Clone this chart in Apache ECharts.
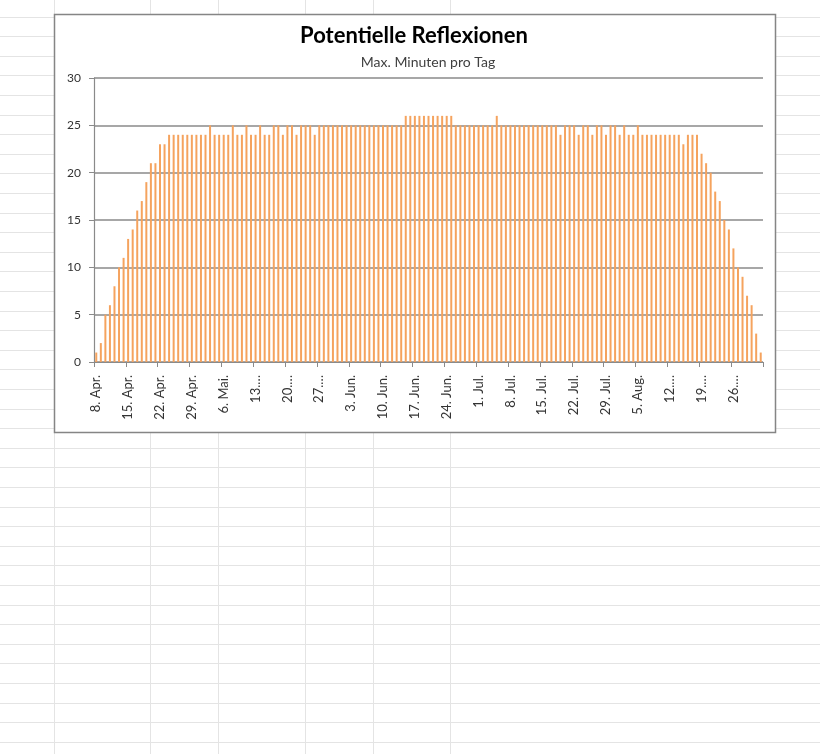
<!DOCTYPE html>
<html>
<head>
<meta charset="utf-8">
<script src="https://cdn.jsdelivr.net/npm/echarts@6/dist/echarts.min.js"></script>
<style>
  html, body { margin: 0; padding: 0; width: 820px; height: 754px; overflow: hidden; }
  body {
    background-color: #ffffff;
    background-image:
      repeating-linear-gradient(to bottom, transparent 0px, transparent 18.6px, #e4e4e4 18.6px, #e4e4e4 19.6px);
    background-position: 0 -2px;
    position: relative;
  }
  .vline { position: absolute; top: 0; width: 1px; height: 754px; background: #e4e4e4; }
  #chart { position: absolute; left: 0; top: 0; width: 820px; height: 754px; }
</style>
</head>
<body>
<div class="vline" style="left:54px"></div>
<div class="vline" style="left:150px"></div>
<div class="vline" style="left:218px"></div>
<div class="vline" style="left:305px"></div>
<div class="vline" style="left:373px"></div>
<div class="vline" style="left:450px"></div>
<div id="chart"></div>
<script>
// ---- data ----
const startDate = [2024, 3, 8]; // 8. April (month index 3)
const monthNames = ["Jan.", "Feb.", "Mär.", "Apr.", "Mai.", "Jun.", "Jul.", "Aug.", "Sep.", "Okt.", "Nov.", "Dez."];
const minutes = [
  1, 2, 5, 6, 8, 10, 11, 13, 14, 16, 17, 19, 21, 21, 23, 23,
  24, 24, 24, 24, 24, 24, 24, 24, 24, 25,
  24, 24, 24, 24, 25, 24, 24, 25, 24, 24, 25, 24, 24, 25, 25, 24, 25, 25, 24, 25, 25, 25, 24,
  25, 25, 25, 25, 25, 25, 25, 25, 25, 25, 25, 25, 25, 25, 25, 25, 25, 25, 25,
  26, 26, 26, 26, 26, 26, 26, 26, 26, 26, 26,
  25, 25, 25, 25, 25, 25, 25, 25, 25,
  26,
  25, 25, 25, 25, 25, 25, 25, 25, 25, 25, 25, 25, 25,
  24, 25, 25, 25, 24, 25, 25, 24, 25, 25, 24, 25, 25, 24, 25, 24, 24, 25,
  24, 24, 24, 24, 24, 24, 24, 24, 24, 23, 24, 24, 24,
  22, 21, 20, 18, 17, 15, 14, 12, 10, 9, 7, 6, 3, 1
];
const tickLabels = ["8. Apr.", "15. Apr.", "22. Apr.", "29. Apr.", "6. Mai.", "13.…", "20.…", "27.…",
  "3. Jun.", "10. Jun.", "17. Jun.", "24. Jun.", "1. Jul.", "8. Jul.", "15. Jul.", "22. Jul.",
  "29. Jul.", "5. Aug.", "12.…", "19.…", "26.…"];
const yTicks = [0, 5, 10, 15, 20, 25, 30];

// category list: one entry per day
const categories = [];
for (let i = 0; i < minutes.length; i++) {
  const d = new Date(startDate[0], startDate[1], startDate[2] + i);
  categories.push(d.getDate() + ". " + monthNames[d.getMonth()]);
}

const font = "Lato, 'Open Sans', sans-serif";
const chart = echarts.init(document.getElementById('chart'), null, { renderer: 'canvas' });
chart.setOption({
  animation: false,
  backgroundColor: 'transparent',
  graphic: [
    { type: 'rect', z: -10, shape: { x: 54.5, y: 14.5, width: 721, height: 418 },
      style: { fill: '#ffffff', stroke: '#858585', lineWidth: 1.5 } },
    { type: 'text', z: 10, x: 414, y: 36, style: { text: 'Potentielle Reflexionen', font: "bold 22px " + font,
      fill: '#000000', textAlign: 'center', textVerticalAlign: 'middle' } },
    { type: 'text', z: 10, x: 428, y: 62, style: { text: 'Max. Minuten pro Tag', font: "14px " + font,
      fill: '#404040', textAlign: 'center', textVerticalAlign: 'middle' } }
  ],
  grid: { left: 94, right: 57, top: 78, bottom: 392, containLabel: false },
  xAxis: {
    type: 'category',
    data: categories,
    boundaryGap: true,
    axisLine: { show: true, lineStyle: { color: '#8a8a8a', width: 1.2 } },
    axisTick: { show: true, interval: 6, length: 5, lineStyle: { color: '#8a8a8a' } },
    axisLabel: {
      interval: 6, rotate: 90, margin: 13, fontSize: 13, fontFamily: font, color: '#333333',
      formatter: function (v, idx) { return tickLabels[Math.round(idx / 7)] || ''; }
    },
    splitLine: { show: false }
  },
  yAxis: {
    type: 'value',
    min: yTicks[0], max: yTicks[yTicks.length - 1], interval: 5,
    axisLine: { show: true, lineStyle: { color: '#8a8a8a', width: 1.2 } },
    axisTick: { show: true, length: 5, lineStyle: { color: '#8a8a8a' } },
    axisLabel: { fontSize: 12, fontFamily: font, color: '#333333', margin: 13 },
    splitLine: { show: true, lineStyle: { color: '#8a8a8a', width: 1.5 } }
  },
  series: [{
    type: 'bar',
    data: minutes,
    barWidth: 2,
    itemStyle: { color: '#F5A35E' }
  }]
});
</script>
</body>
</html>
